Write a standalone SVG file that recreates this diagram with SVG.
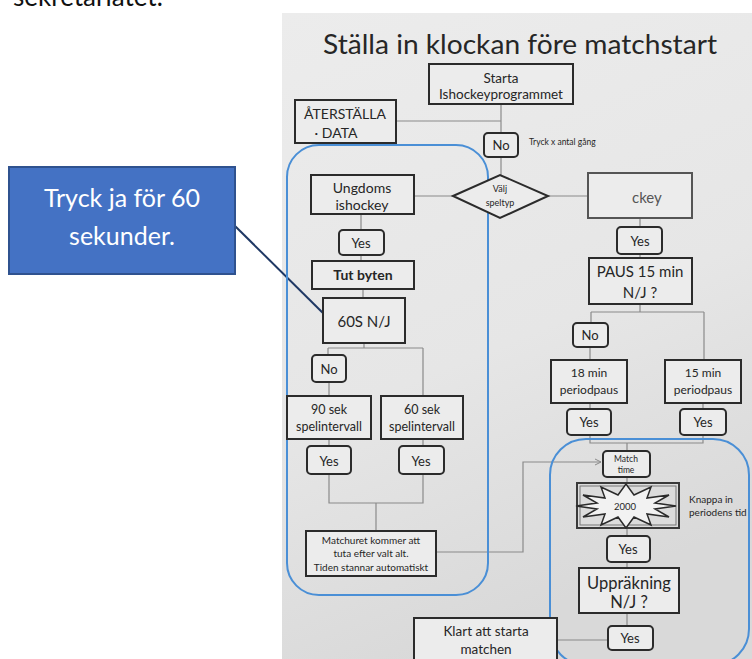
<svg xmlns="http://www.w3.org/2000/svg" width="752" height="659" viewBox="0 0 752 659">
<style>
.t{font-family:Lato,"Open Sans","DejaVu Sans",sans-serif;fill:#262626;text-anchor:middle}
.box{fill:#ececec;stroke:#2b2b2b;stroke-width:2}
.rbox{fill:#ececec;stroke:#2b2b2b;stroke-width:2}
.ln{fill:none;stroke:#8a8a8a;stroke-width:1.2}
.blue{fill:none;stroke:#4a8fd6;stroke-width:2}
</style>
<defs>
<linearGradient id="paper" x1="0" y1="0" x2="0.3" y2="1">
<stop offset="0" stop-color="#ececec"/>
<stop offset="0.6" stop-color="#e6e6e6"/>
<stop offset="1" stop-color="#d9d9d9"/>
</linearGradient>
<marker id="arr" markerWidth="8" markerHeight="8" refX="7" refY="4" orient="auto" markerUnits="userSpaceOnUse">
<path d="M1,1 L7,4 L1,7" fill="none" stroke="#8a8a8a" stroke-width="1"/>
</marker>
</defs>
<rect width="752" height="659" fill="#ffffff"/>
<text x="13" y="6" style="font-family:Lato,'Open Sans',sans-serif;font-size:26px;fill:#111">sekretariatet.</text>
<rect x="282" y="13" width="470" height="646" fill="url(#paper)"/>
<text class="t" x="520" y="54" style="font-size:27px" textLength="394" lengthAdjust="spacingAndGlyphs">Ställa in klockan före matchstart</text>

<g id="connectors">
<path class="ln" d="M501,104 V133"/>
<path class="ln" d="M396,121 H501"/>
<path class="ln" d="M501,157 V175"/>
<path class="ln" d="M414,196 H453"/>
<path class="ln" d="M548,196 H588"/>
<path class="ln" d="M361,214 V230"/>
<path class="ln" d="M361,255 V261"/>
<path class="ln" d="M363,289 V298"/>
<path class="ln" d="M364,343 V348 M328,348 H423 M328,348 V355 M423,348 V396"/>
<path class="ln" d="M329,382 V396"/>
<path class="ln" d="M329,439 V446 M423,439 V446"/>
<path class="ln" d="M329,474 V503 H423 V474 M376,503 V531"/>
<path class="ln" d="M436,552 H523 V462 H601" marker-end="url(#arr)"/>
<path class="ln" d="M640,218 V227"/>
<path class="ln" d="M640,254 V258"/>
<path class="ln" d="M640,304 V312 M591,312 H704 M591,312 V323 M704,312 V360"/>
<path class="ln" d="M590,347 V360"/>
<path class="ln" d="M590,403 V409 M703,403 V409"/>
<path class="ln" d="M590,435 V443 H703 V435 M627,443 V451"/>
<path class="ln" d="M627,477 V483"/>
<path class="ln" d="M627,528 V536"/>
<path class="ln" d="M627,562 V568"/>
<path class="ln" d="M627,613 V626"/>
<path class="ln" d="M557,640 H608"/>
<path d="M235,226 L328,318" fill="none" stroke="#1f3864" stroke-width="2"/>
</g>

<g id="blue-left"><rect class="blue" x="287" y="145" width="201" height="450" rx="32"/></g>
<g id="blue-right"><rect class="blue" x="550" y="439" width="199" height="226" rx="36"/></g>

<g id="starta"><rect class="box" x="429" y="64" width="144" height="40"/>
<text class="t" x="501" y="83" style="font-size:13.5px">Starta</text>
<text class="t" x="501" y="99" style="font-size:13.5px">Ishockeyprogrammet</text></g>

<g id="aterstalla"><rect class="box" x="295" y="100" width="101" height="43"/>
<text class="t" x="345" y="119" style="font-size:14px">ÅTERSTÄLLA</text>
<text class="t" x="336" y="138" style="font-size:14px">· DATA</text></g>

<g id="no-top"><rect class="rbox" x="484" y="133" width="34" height="24" rx="4"/>
<text class="t" x="501" y="150" style="font-size:13px">No</text></g>
<g id="tryck-note"><text class="t" x="529" y="145" style="font-size:8.5px;text-anchor:start">Tryck x antal gång</text></g>

<g id="valj"><polygon points="453,196 500,175 548,196 500,218" fill="#ececec" stroke="#2b2b2b" stroke-width="2"/>
<text class="t" x="500" y="192" style="font-size:9px">Välj</text>
<text class="t" x="500" y="206" style="font-size:9px">speltyp</text></g>

<g id="ishockey"><rect x="588" y="173" width="104" height="45" fill="#ececec" stroke="#555" stroke-width="2"/>
<text class="t" x="632" y="203" style="font-size:15px;text-anchor:start;fill:#555">ckey</text></g>

<g id="ungdoms"><rect class="box" x="311" y="175" width="103" height="39"/>
<text class="t" x="362" y="193" style="font-size:14px">Ungdoms</text>
<text class="t" x="362" y="210" style="font-size:14px">ishockey</text></g>

<g id="yes-u"><rect class="rbox" x="339" y="230" width="45" height="25" rx="4"/>
<text class="t" x="361" y="248" style="font-size:13px">Yes</text></g>

<g id="tut"><rect class="box" x="312" y="261" width="102" height="28"/>
<text class="t" x="363" y="280" style="font-size:14px;font-weight:bold">Tut byten</text></g>

<g id="s60"><rect class="box" x="323" y="298" width="82" height="45"/>
<text class="t" x="364" y="327" style="font-size:15px">60S N/J</text></g>

<g id="no-u"><rect class="rbox" x="312" y="355" width="34" height="27" rx="4"/>
<text class="t" x="329" y="374" style="font-size:13px">No</text></g>

<g id="sek90"><rect class="box" x="287" y="396" width="84" height="43"/>
<text class="t" x="329" y="414" style="font-size:12.5px">90 sek</text>
<text class="t" x="329" y="431" style="font-size:12.5px">spelintervall</text></g>

<g id="sek60"><rect class="box" x="381" y="396" width="82" height="43"/>
<text class="t" x="422" y="414" style="font-size:12.5px">60 sek</text>
<text class="t" x="422" y="431" style="font-size:12.5px">spelintervall</text></g>

<g id="yes-90"><rect class="rbox" x="307" y="446" width="44" height="28" rx="4"/>
<text class="t" x="329" y="466" style="font-size:13px">Yes</text></g>
<g id="yes-60"><rect class="rbox" x="399" y="446" width="45" height="28" rx="4"/>
<text class="t" x="421" y="466" style="font-size:13px">Yes</text></g>

<g id="matchuret"><rect class="box" x="306" y="531" width="130" height="45"/>
<text class="t" x="371" y="544" style="font-size:10px">Matchuret kommer att</text>
<text class="t" x="371" y="557" style="font-size:10px">tuta efter valt alt.</text>
<text class="t" x="371" y="571" style="font-size:10px">Tiden stannar automatiskt</text></g>

<g id="yes-i"><rect class="rbox" x="617" y="227" width="45" height="27" rx="4"/>
<text class="t" x="640" y="246" style="font-size:13px">Yes</text></g>

<g id="paus"><rect class="box" x="589" y="258" width="103" height="46"/>
<text class="t" x="640" y="277" style="font-size:15px">PAUS 15 min</text>
<text class="t" x="640" y="298" style="font-size:15px">N/J ?</text></g>

<g id="no-i"><rect class="rbox" x="573" y="323" width="35" height="24" rx="4"/>
<text class="t" x="590" y="340" style="font-size:13px">No</text></g>

<g id="min18"><rect class="box" x="551" y="360" width="76" height="43"/>
<text class="t" x="589" y="377" style="font-size:12px">18 min</text>
<text class="t" x="589" y="394" style="font-size:12px">periodpaus</text></g>

<g id="min15"><rect class="box" x="665" y="360" width="76" height="43"/>
<text class="t" x="703" y="377" style="font-size:12px">15 min</text>
<text class="t" x="703" y="394" style="font-size:12px">periodpaus</text></g>

<g id="yes-18"><rect class="rbox" x="567" y="409" width="44" height="26" rx="4"/>
<text class="t" x="589" y="427" style="font-size:13px">Yes</text></g>
<g id="yes-15"><rect class="rbox" x="680" y="409" width="46" height="26" rx="4"/>
<text class="t" x="703" y="427" style="font-size:13px">Yes</text></g>

<g id="matchtime"><rect class="rbox" x="603" y="451" width="47" height="26" rx="4"/>
<text class="t" x="626" y="462" style="font-size:8.5px">Match</text>
<text class="t" x="626" y="473" style="font-size:8.5px">time</text></g>

<g id="time2000"><rect x="577" y="483" width="102" height="45" fill="#dcdcdc" stroke="#3a3a3a" stroke-width="2"/>
<rect x="580" y="486" width="96" height="39" fill="none" stroke="#777" stroke-width="1"/>
<polygon points="676,506 655,509 669,517 647,514 651,525 634,517 626,528 618,517 601,525 605,514 583,517 597,509 576,506 597,503 583,495 605,498 601,487 618,495 626,484 634,495 651,487 647,498 669,495 655,503" fill="#f2f2f2" stroke="#2b2b2b" stroke-width="1.5"/>
<text class="t" x="625" y="510" style="font-size:9.5px">2000</text></g>

<g id="knappa-note"><text class="t" x="689" y="503" style="font-size:10px;text-anchor:start">Knappa in</text>
<text class="t" x="689" y="516" style="font-size:10px;text-anchor:start">periodens tid</text></g>

<g id="yes-2000"><rect class="rbox" x="607" y="536" width="43" height="26" rx="4"/>
<text class="t" x="628" y="554" style="font-size:13px">Yes</text></g>

<g id="upprakning"><rect class="box" x="579" y="568" width="100" height="45"/>
<text class="t" x="629" y="589" style="font-size:16.5px">Uppräkning</text>
<text class="t" x="629" y="608" style="font-size:16.5px">N/J ?</text></g>

<g id="yes-upp"><rect class="rbox" x="608" y="626" width="45" height="24" rx="4"/>
<text class="t" x="630" y="643" style="font-size:13px">Yes</text></g>

<g id="klart"><rect class="box" x="414" y="618" width="143" height="50"/>
<text class="t" x="486" y="636" style="font-size:13.5px">Klart att starta</text>
<text class="t" x="486" y="654" style="font-size:13.5px">matchen</text></g>

<g id="callout"><rect x="9" y="167" width="226" height="107" fill="#4472c4" stroke="#2f528f" stroke-width="2"/>
<text x="122" y="207" style="font-family:Lato,'Open Sans',sans-serif;font-size:25px;fill:#fff;text-anchor:middle">Tryck ja för 60</text>
<text x="122" y="245" style="font-family:Lato,'Open Sans',sans-serif;font-size:25px;fill:#fff;text-anchor:middle">sekunder.</text></g>
</svg>
